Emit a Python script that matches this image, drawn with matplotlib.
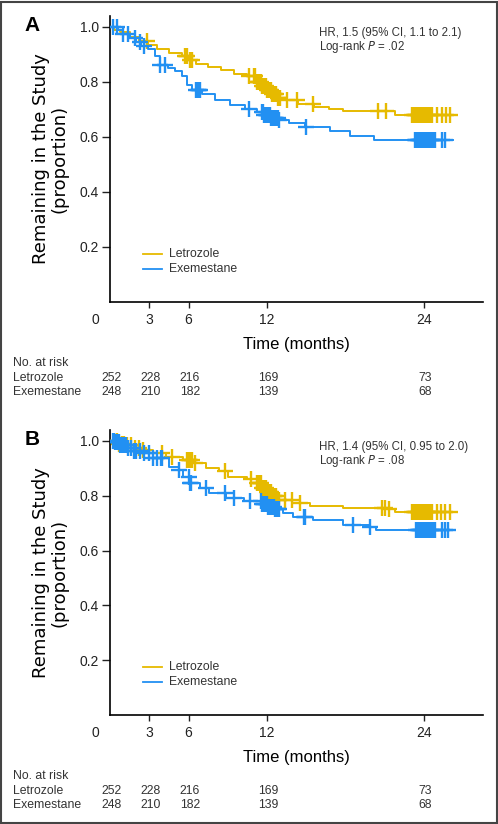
import numpy as np
import matplotlib
matplotlib.use("Agg")
from matplotlib import pyplot as plt
from matplotlib.patches import Rectangle

plt.rcParams['font.family'] = ['Liberation Sans', 'DejaVu Sans']

GOLD = '#E6BA00'
BLUE = '#2290F2'

# ---- panel A (months, proportion after each drop) ----
a_let_t = [0.3, 0.8, 1.5, 2.2, 2.9, 3.6, 4.5, 5.5, 6.0, 6.6, 7.5, 8.5, 9.5, 10.5,
           11.2, 11.6, 12.0, 12.4, 12.8, 13.5, 14.4, 15.6, 16.7, 17.8, 21.8]
a_let_s = [0.99, 0.98, 0.965, 0.95, 0.935, 0.92, 0.905, 0.895, 0.88, 0.865, 0.855,
           0.845, 0.83, 0.82, 0.80, 0.785, 0.77, 0.755, 0.74, 0.735, 0.72, 0.71,
           0.70, 0.695, 0.68]
a_let_c = [2.8, 5.7, 5.8, 5.9, 6.1, 6.3, 10.6, 11.0, 11.1, 11.2, 11.3, 11.4, 11.5,
           11.6, 11.7, 11.8, 11.9, 12.0, 12.1, 12.2, 12.3, 12.4, 12.5, 12.6, 12.7,
           12.8, 12.9, 13.0, 13.5, 14.3, 15.5, 20.5, 21.1,
           23.1, 23.2, 23.3, 23.4, 23.5, 23.6, 23.7, 23.8, 23.9, 24.0, 24.1, 24.2,
           24.3, 24.4, 24.5, 24.6, 25.0, 25.4, 25.7, 26.0]
a_let_end = 26.5

a_exe_t = [0.6, 1.0, 1.5, 2.0, 2.4, 2.9, 3.4, 3.8, 4.4, 5.0, 5.5, 5.9, 6.3, 7.0, 8.0,
           9.2, 10.3, 11.2, 11.8, 12.3, 12.9, 13.7, 14.9, 16.8, 18.3, 20.2]
a_exe_s = [0.99, 0.975, 0.96, 0.945, 0.93, 0.92, 0.895, 0.86, 0.85, 0.84, 0.82, 0.79,
           0.77, 0.755, 0.735, 0.715, 0.70, 0.69, 0.68, 0.67, 0.66, 0.65, 0.635,
           0.62, 0.605, 0.59]
a_exe_c = [0.2, 0.5, 1.0, 1.4, 1.9, 2.3, 2.6, 3.8, 4.2, 6.6, 6.7, 6.8, 6.9, 10.6,
           11.6, 11.7, 11.8, 11.9, 12.0, 12.1, 12.2, 12.3, 12.4, 12.5, 12.6, 12.7,
           12.8, 12.9, 15.0,
           23.3, 23.4, 23.5, 23.6, 23.7, 23.8, 23.9, 24.0, 24.1, 24.2, 24.3, 24.4,
           24.5, 24.6, 24.7, 24.8, 25.4, 25.6]
a_exe_end = 26.2

# ---- panel B ----
b_let_t = [0.6, 1.2, 1.8, 2.5, 3.3, 4.3, 5.6, 6.4, 7.3, 8.3, 9.0, 10.5, 11.2, 11.6,
           12.0, 12.4, 12.8, 14.5, 15.3, 17.8, 21.1, 21.8]
b_let_s = [0.99, 0.985, 0.975, 0.967, 0.955, 0.942, 0.93, 0.92, 0.90, 0.89, 0.87,
           0.86, 0.845, 0.83, 0.815, 0.80, 0.785, 0.773, 0.763, 0.755, 0.75, 0.742]
b_let_c = [0.3, 0.5, 0.7, 0.9, 1.1, 1.3, 1.6, 1.9, 2.2, 2.5, 4.0, 4.7, 5.9, 6.0,
           6.1, 6.3, 6.5, 8.8, 10.8, 11.2, 11.3, 11.4, 11.5, 11.6, 11.7, 11.8, 11.9,
           12.0, 12.1, 12.2, 12.3, 12.4, 12.5, 12.6, 12.7, 12.8, 12.9, 13.4, 13.9,
           14.5, 20.8, 21.0, 21.3,
           23.1, 23.2, 23.3, 23.4, 23.5, 23.6, 23.7, 23.8, 23.9, 24.0, 24.1, 24.2,
           24.3, 24.4, 24.5, 24.6, 25.0, 25.3, 25.6, 26.0]
b_let_end = 26.5

b_exe_t = [0.4, 0.8, 1.3, 1.8, 2.5, 3.3, 4.5, 5.3, 5.6, 6.1, 6.9, 7.6, 8.9, 10.2,
           11.6, 12.1, 12.6, 13.2, 14.0, 15.5, 17.8, 19.8, 20.3]
b_exe_s = [0.995, 0.985, 0.975, 0.965, 0.955, 0.938, 0.905, 0.894, 0.87, 0.847,
           0.83, 0.81, 0.79, 0.78, 0.77, 0.76, 0.75, 0.737, 0.724, 0.71, 0.695,
           0.685, 0.675]
b_exe_c = [0.2, 0.3, 0.4, 0.5, 0.6, 0.7, 0.8, 0.9, 1.0, 1.1, 1.2, 1.4, 1.6, 1.8,
           2.0, 2.3, 2.6, 3.0, 3.3, 3.6, 3.9, 4.0, 5.3, 6.0, 6.1, 6.2, 7.3, 8.8, 9.5,
           10.7, 11.5, 11.6, 11.7, 11.8, 11.9, 12.0, 12.1, 12.2, 12.3, 12.4, 12.5,
           12.6, 12.7, 12.8, 12.9, 14.8, 14.9, 18.6, 19.9,
           23.4, 23.5, 23.6, 23.7, 23.8, 23.9, 24.0, 24.1, 24.2, 24.3, 24.4, 24.5,
           24.6, 24.7, 24.8, 25.4, 25.6, 25.8]
b_exe_end = 26.2

risk_times = [0, 3, 6, 12, 24]
risk_let = [252, 228, 216, 169, 73]
risk_exe = [248, 210, 182, 139, 68]

hr_text = ['HR, 1.5 (95% CI, 1.1 to 2.1)', 'HR, 1.4 (95% CI, 0.95 to 2.0)']
p_text = ['.02', '.08']

TXT = '#333333'


def km(ax, t, s, cens, end, color):
    tt = np.r_[0, t, end]
    ss = np.r_[1.0, s, s[-1]]
    ax.step(tt, ss, where='post', color=color, lw=1.4, zorder=3)
    idx = np.searchsorted(np.r_[0, t], cens, side='right') - 1
    cy = np.r_[1.0, s][idx]
    ax.plot(cens, cy, ls='none', marker='+', ms=11, mew=1.7, color=color, zorder=3)


fig = plt.figure(figsize=(4.98, 8.24), dpi=100)

panels = [
    (0.6335, 0.3471, 'A', (a_let_t, a_let_s, a_let_c, a_let_end),
     (a_exe_t, a_exe_s, a_exe_c, a_exe_end), 0),
    (0.1323, 0.3459, 'B', (b_let_t, b_let_s, b_let_c, b_let_end),
     (b_exe_t, b_exe_s, b_exe_c, b_exe_end), 1),
]

for bottom, height, letter, let, exe, k in panels:
    ax = fig.add_axes([0.2209, bottom, 0.749, height])
    km(ax, *let, GOLD)
    km(ax, *exe, BLUE)
    ax.set_xlim(0, 28.5)
    ax.set_ylim(0, 1.04)
    for sp in ['top', 'right']:
        ax.spines[sp].set_visible(False)
    ax.spines['left'].set_linewidth(1.2)
    ax.spines['bottom'].set_linewidth(1.2)
    ax.set_yticks([0.2, 0.4, 0.6, 0.8, 1.0])
    ax.set_yticklabels(['0.2', '0.4', '0.6', '0.8', '1.0'])
    ax.set_xticks([3, 6, 12, 24])
    ax.set_xticklabels(['3', '6', '12', '24'])
    ax.tick_params(axis='both', direction='out', width=1, labelsize=10,
                   colors='#222222')
    ax.tick_params(axis='x', length=4, pad=4)
    ax.tick_params(axis='y', length=6, pad=2)
    ax.text(-1.15, -0.04, '0', ha='center', va='top', fontsize=10, color='#222222',
            transform=ax.get_xaxis_transform())
    ax.set_xlabel('Time (months)', fontsize=12, labelpad=7)
    ax.set_ylabel('Remaining in the Study\n(proportion)',
                  family=['DejaVu Sans'], fontsize=13, labelpad=8, linespacing=1.0)

    ax.text(15.95, 0.978, hr_text[k], fontsize=8.3, color=TXT, va='center')
    ax.text(15.95, 0.927, 'Log-rank $\\mathit{P}$ = ' + p_text[k], fontsize=8.3,
            color=TXT, va='center')

    ax.plot([2.5, 4.0], [0.175, 0.175], color=GOLD, lw=1.3)
    ax.plot([2.5, 4.0], [0.12, 0.12], color=BLUE, lw=1.3)
    ax.text(4.5, 0.175, 'Letrozole', fontsize=8.8, va='center', color=TXT)
    ax.text(4.5, 0.12, 'Exemestane', fontsize=8.8, va='center', color=TXT)

    fig.text(0.05, bottom + height - 0.011, letter, fontsize=15, fontweight='bold',
             va='center', ha='left')

    # number at risk table
    y0 = bottom - 0.074
    fig.text(0.026, y0, 'No. at risk', fontsize=8.8, color=TXT, va='center')
    fig.text(0.026, y0 - 0.018, 'Letrozole', fontsize=8.8, color=TXT, va='center')
    fig.text(0.026, y0 - 0.035, 'Exemestane', fontsize=8.8, color=TXT, va='center')
    for t, nl, ne in zip(risk_times, risk_let, risk_exe):
        xf = 0.2209 + 0.749 * (t + 0.1) / 28.5
        fig.text(xf, y0 - 0.018, str(nl), fontsize=8.8, color=TXT,
                 va='center', ha='center')
        fig.text(xf, y0 - 0.035, str(ne), fontsize=8.8, color=TXT,
                 va='center', ha='center')

fig.patches.append(Rectangle((0.002, 0.001), 0.996, 0.997, transform=fig.transFigure,
                             fill=False, edgecolor='#444444', lw=1.5))

fig.savefig('out.png', dpi=100)
